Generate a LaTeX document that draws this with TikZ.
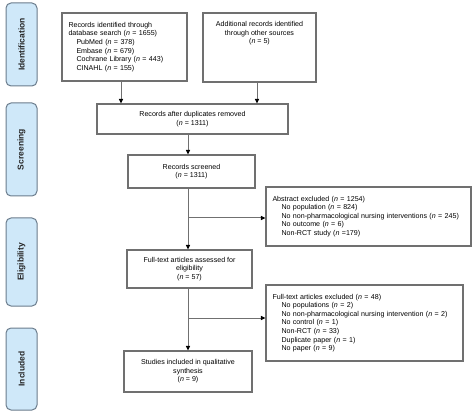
\documentclass[tikz,border=0pt]{standalone}
\usepackage{fontspec}
\setmainfont{Liberation Sans}
\usetikzlibrary{arrows.meta}
\definecolor{linegray}{HTML}{707070}
\definecolor{sidefill}{HTML}{CFE8F9}
\definecolor{sidedraw}{HTML}{6B7C8C}
\tikzset{
  box/.style={draw=linegray, line width=1.1pt, fill=white, inner sep=0pt,
    font={\fontsize{7.1}{8.6}\selectfont}, align=center},
  lbox/.style={box, align=left, inner xsep=6.5pt},
  side/.style={draw=sidedraw, line width=1pt, fill=sidefill, rounded corners=5pt,
    minimum width=31pt, inner sep=0pt, font={\fontsize{8.5}{9}\selectfont\bfseries}, text=black!85},
  arr/.style={draw=linegray, line width=1pt, -{Triangle[length=4.5pt,width=4pt,fill=black,color=black]}},
  txt/.style={inner sep=0pt, font={\fontsize{7.1}{8.6}\selectfont}, align=center}
}
\newcommand{\nn}{\textit{n}}
\begin{document}
\begin{tikzpicture}[x=1pt,y=-1pt]
\useasboundingbox (0,0) rectangle (474,414);
% side labels
\node[side, minimum height=83pt] (sid) at (21.5,44.5) {\rotatebox{90}{Identification}};
\node[side, minimum height=93pt] (sscr) at (21.5,149.5) {\rotatebox{90}{Screening}};
\node[side, minimum height=88pt] (selig) at (21.5,262) {\rotatebox{90}{Eligibility}};
\node[side, minimum height=82pt] (sinc) at (21.5,369) {\rotatebox{90}{Included}};
% boxes
\node[lbox, text width=112pt, minimum height=68pt] (db) at (124.5,47)
  {Records identified through\\database search (\nn{} = 1655)\\
   \hspace*{8pt}PubMed (\nn{} = 378)\\
   \hspace*{8pt}Embase (\nn{} = 679)\\
   \hspace*{8pt}Cochrane Library (\nn{} = 443)\\
   \hspace*{8pt}CINAHL (\nn{} = 155)};
\node[box, minimum width=113pt, minimum height=69pt] (other) at (259.5,47.5) {};
\node[txt] (othert) at (259.5,33.5) {Additional records identified\\through other sources\\(\nn{} = 5)};
\node[box, minimum width=191pt, minimum height=30pt] (dup) at (192.5,119)
  {Records after duplicates removed\\(\nn{} = 1311)};
\node[box, minimum width=127pt, minimum height=33pt] (scr) at (191.5,171.5)
  {Records screened\\(\nn{} = 1311)};
\node[lbox, text width=192pt, minimum height=59pt] (abs) at (368.5,216.5)
  {Abstract excluded (\nn{} = 1254)\\
   \hspace*{9pt}No population (\nn{} = 824)\\
   \hspace*{9pt}No non-pharmacological nursing interventions (\nn{} = 245)\\
   \hspace*{9pt}No outcome (\nn{} = 6)\\
   \hspace*{9pt}Non-RCT study (\nn{} =179)};
\node[box, minimum width=125pt, minimum height=38pt] (full) at (189.5,269)
  {Full-text articles assessed for\\eligibility\\(\nn{} = 57)};
\node[lbox, text width=184pt, minimum height=76pt] (fex) at (364.5,323)
  {Full-text articles excluded (\nn{} = 48)\\
   \hspace*{9pt}No populations (\nn{} = 2)\\
   \hspace*{9pt}No non-pharmacological nursing intervention (\nn{} = 2)\\
   \hspace*{9pt}No control (\nn{} = 1)\\
   \hspace*{9pt}Non-RCT (\nn{} = 33)\\
   \hspace*{9pt}Duplicate paper (\nn{} = 1)\\
   \hspace*{9pt}No paper (\nn{} = 9)};
\node[box, minimum width=128pt, minimum height=41pt] (inc) at (188,371.5)
  {Studies included in qualitative\\synthesis\\(\nn{} = 9)};
% connectors
\coordinate (a1) at (121,81);
\coordinate (a2) at (257,82);
\draw[arr] (a1) -- (a1 |- dup.north);
\draw[arr] (a2) -- (a2 |- dup.north);
\coordinate (m1) at (188,134);
\draw[arr] (m1) -- (m1 |- scr.north);
\coordinate (m2) at (188,188);
\coordinate (b1) at (188,218);
\draw[arr] (m2) -- (m2 |- full.north);
\draw[arr] (b1) -- (b1 -| abs.west);
\coordinate (m3) at (188,288);
\coordinate (b2) at (188,318);
\draw[arr] (m3) -- (m3 |- inc.north);
\draw[arr] (b2) -- (b2 -| fex.west);
\end{tikzpicture}
\end{document}
